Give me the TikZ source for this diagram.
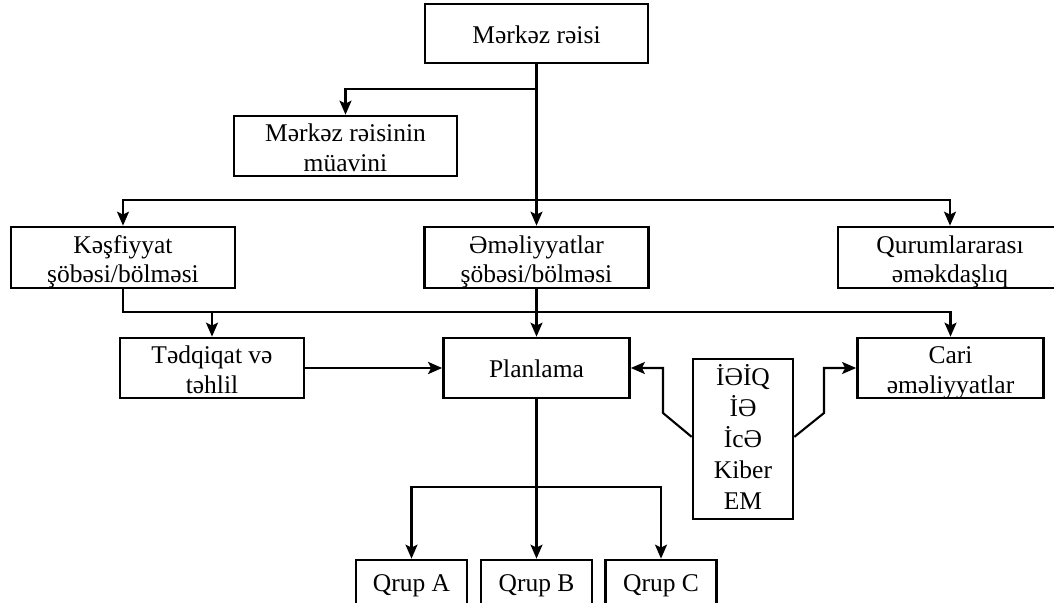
\documentclass[tikz,border=0pt]{standalone}
\usepackage{fontspec}
\setmainfont{Liberation Serif}
\usetikzlibrary{arrows.meta}
\tikzset{
  box/.style={draw, line width=2.7pt, minimum width=#1, minimum height=60pt, inner sep=0pt},
  txt/.style={inner sep=0pt, align=center, font=\fontsize{25.5pt}{29.5pt}\selectfont},
  conn/.style={line width=2.1pt, -{Stealth[length=14pt,width=12pt,inset=3pt]}},
}
\begin{document}
\begin{tikzpicture}[x=1pt,y=-1pt]
\useasboundingbox (0,0) rectangle (1054,602);
\clip (0,0) rectangle (1054,602);
% boxes
\node[box=223pt, minimum height=59pt] (top) at (536.5,33.5) {};
\node[box=223pt] (muav) at (345.5,146) {};
\node[box=224pt, minimum height=61pt] (kes) at (123,257.5) {};
\node[box=224pt, minimum height=61pt] (eme) at (536.5,257.5) {};
\node[box=224pt, minimum height=61pt] (qur) at (950,257.5) {};
\node[box=184pt] (ted) at (212,368) {};
\node[box=186pt] (plan) at (536.5,368) {};
\node[box=186pt] (cari) at (950.5,368) {};
\node[box=100pt, minimum height=160pt] (ieiq) at (743,438.85) {};
\node[box=111pt] (qa) at (411.5,590) {};
\node[box=111pt] (qb) at (536.5,590) {};
\node[box=111pt] (qc) at (661,590) {};
% texts
\node[txt, anchor=base] (ttop) at (536.5,44) {Mərkəz rəisi};
\node[txt] (tmuav) at ([yshift=-4.5pt]muav.center) {\strut Mərkəz rəisinin\\\strut müavini};
\node[txt] (tkes) at ([yshift=-4.5pt]kes.center) {\strut Kəşfiyyat\\\strut şöbəsi/bölməsi};
\node[txt] (teme) at ([yshift=-4.5pt]eme.center) {\strut Əməliyyatlar\\\strut şöbəsi/bölməsi};
\node[txt] (tqur) at ([yshift=-4.5pt]qur.center) {\strut Qurumlararası\\\strut əməkdaşlıq};
\node[txt] (tted) at ([yshift=-4.5pt]ted.center) {\strut Tədqiqat və\\\strut təhlil};
\node[txt, anchor=base] (tplan) at (536.5,377.3) {Planlama};
\node[txt] (tcari) at ([yshift=-4.5pt]cari.center) {\strut Cari\\\strut əməliyyatlar};
\node[txt, font=\fontsize{25.5pt}{31pt}\selectfont] (tieiq) at ([yshift=-2pt]ieiq.center)
  {\strut İƏİQ\\\strut İƏ\\\strut İcƏ\\\strut Kiber\\\strut EM};
\node[txt, anchor=base] (tqa) at (411.5,591) {Qrup A};
\node[txt, anchor=base] (tqb) at (536.5,591) {Qrup B};
\node[txt, anchor=base] (tqc) at (661,591) {Qrup C};
% junction points
\coordinate (s1) at (536.5,89);
\coordinate (s2) at (536.5,200);
\coordinate (s3) at (212,312);
\coordinate (s4) at (536.5,486.7);
\coordinate (kl) at (663,413);
\coordinate (kr) at (824,413);
% connectors
\draw[conn] (top.south) -- (eme.north);
\draw[conn] (s1) -| (muav.north);
\draw[conn] (s2) -| (kes.north);
\draw[conn] (s2) -| (qur.north);
\draw[conn] (kes.south) |- (s3) -| (cari.north);
\draw[conn] (s3) -- (ted.north);
\draw[conn] (eme.south) -- (plan.north);
\draw[conn, line width=2.8pt] (ted.east) -- (plan.west);
\draw[conn] ([yshift=2pt]ieiq.west) -- (kl) |- (plan.east);
\draw[conn] ([yshift=2pt]ieiq.east) -- (kr) |- (cari.west);
\draw[conn] (plan.south) -- (qb.north);
\draw[conn] (s4) -| (qa.north);
\draw[conn] (s4) -| (qc.north);
\end{tikzpicture}
\end{document}
